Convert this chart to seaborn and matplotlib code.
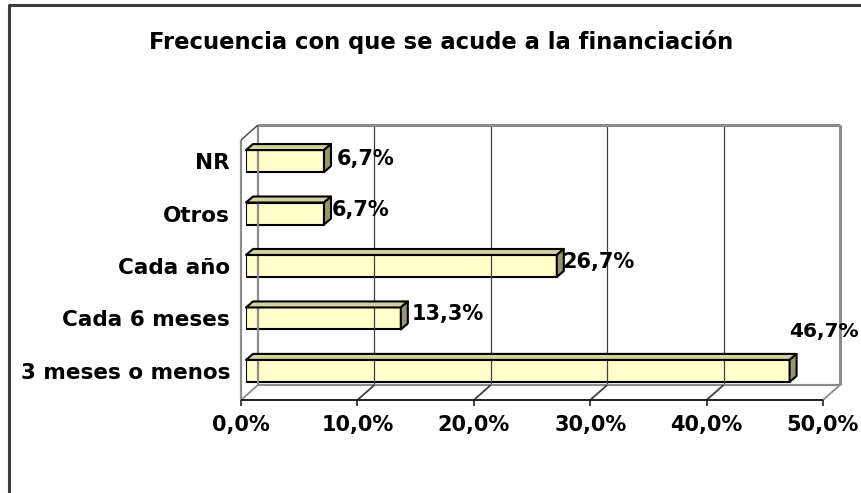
import matplotlib
matplotlib.use("Agg")
import matplotlib.pyplot as plt
import matplotlib.lines as mlines
import matplotlib.patches as mpatches
import matplotlib.transforms as mtransforms
import seaborn as sns
import pandas as pd

# ---- data ----
categories = ["NR", "Otros", "Cada año", "Cada 6 meses", "3 meses o menos"]
values = [0.067, 0.067, 0.267, 0.133, 0.467]
value_labels = ["6,7%", "6,7%", "26,7%", "13,3%", "46,7%"]
x_ticks = [0.0, 0.1, 0.2, 0.3, 0.4, 0.5]
x_tick_labels = ["0,0%", "10,0%", "20,0%", "30,0%", "40,0%", "50,0%"]
title = "Frecuencia con que se acude a la financiación"

# ---- style ----
sns.set_theme(style="white")
plt.rcParams["font.family"] = ["DejaVu Sans"]
FS = 15
W, H = 862, 493
FRONT = "#FFFFCC"
TOP = "#D2D2A0"
SIDE = "#96966C"
GRAY = "#8C8C8C"
D_BAR = (7, 6)      # bar depth (display px)
D_BACK = (12, 11)   # back wall offset from bar plane
D_FRONT = (-5, -4)  # front plane offset from bar plane

fig = plt.figure(figsize=(W / 100, H / 100), dpi=100)
ax = fig.add_axes([246 / W, (H - 396) / H, 582 / W, 260 / H])

df = pd.DataFrame({"cat": categories, "val": values})
sns.barplot(data=df, x="val", y="cat", order=categories, orient="h",
            color=FRONT, saturation=1, edgecolor="black", linewidth=1.5,
            width=0.42, ax=ax, zorder=5)
ax.set_xlim(0, 0.5)
ax.set_ylim(4.478, -0.478)
for s in ax.spines.values():
    s.set_visible(False)
ax.set_xticks([])
ax.set_xlabel("")
ax.set_ylabel("")
ax.tick_params(axis="y", length=0, pad=11.5)
for t in ax.get_yticklabels():
    t.set_fontsize(FS + 0.5)
    t.set_fontweight("bold")
    t.set_color("black")
ax.patch.set_alpha(0)

fig.canvas.draw()
ident = mtransforms.IdentityTransform()
ybot, ytop = ax.get_ylim()


def disp(x, y, d=(0, 0)):
    px, py = ax.transData.transform((x, y))
    return (px + d[0], py + d[1])


def line(p, q, color, lw, z=1):
    fig.add_artist(mlines.Line2D([p[0], q[0]], [p[1], q[1]], transform=ident,
                                 color=color, lw=lw, zorder=z,
                                 solid_capstyle="butt"))


# back wall gridlines
for t in x_ticks[1:-1]:
    line(disp(t, ybot, D_BACK), disp(t, ytop, D_BACK), "#404040", 0.9)
# back wall outer edges
line(disp(0, ybot, D_BACK), disp(0, ytop, D_BACK), GRAY, 1.6)
line(disp(0, ytop, D_BACK), disp(0.5, ytop, D_BACK), GRAY, 2.2)
line(disp(0.5, ytop, D_BACK), disp(0.5, ybot, D_BACK), GRAY, 2.2)
# floor
line(disp(0, ybot, D_BACK), disp(0.5, ybot, D_BACK), GRAY, 1.6)
for t in x_ticks:
    line(disp(t, ybot, D_FRONT), disp(t, ybot, D_BACK),
         GRAY if t in (0, 0.5) else "#404040", 1.3)
# left wall
line(disp(0, ybot, D_FRONT), disp(0, ytop, D_FRONT), GRAY, 1.6)
line(disp(0, ytop, D_FRONT), disp(0, ytop, D_BACK), "#404040", 1.0)
# front axis with ticks
line(disp(0, ybot, D_FRONT), disp(0.5, ybot, D_FRONT), "#202020", 1.4, 3)
for t, lab in zip(x_ticks, x_tick_labels):
    p = disp(t, ybot, D_FRONT)
    line(p, (p[0], p[1] - 6), "#202020", 1.2, 3)
    fig.text(p[0] / W, (p[1] - 25) / H, lab, ha="center", va="center",
             fontsize=FS, fontweight="bold", color="black")

# 3D bar faces
for patch in ax.patches:
    x0, y0 = patch.get_x(), patch.get_y()
    w, h = patch.get_width(), patch.get_height()
    (ax0, ay0) = disp(x0, y0)
    (ax1, ay1) = disp(x0 + w, y0 + h)
    left, right = min(ax0, ax1), max(ax0, ax1)
    top, bottom = max(ay0, ay1), min(ay0, ay1)
    dx, dy = D_BAR
    top_face = [(left, top), (right, top), (right + dx, top + dy), (left + dx, top + dy)]
    side_face = [(right, top), (right, bottom), (right + dx, bottom + dy), (right + dx, top + dy)]
    for poly, col in ((top_face, TOP), (side_face, SIDE)):
        fig.add_artist(mpatches.Polygon(poly, closed=True, transform=ident,
                                        facecolor=col, edgecolor="black",
                                        lw=1.5, zorder=6, joinstyle="round"))

# value labels (last one sits above its bar, flush with the right edge)
label_dx = [13, 8, 6, 11]
label_dy = [2, 4, 4, 4, 39]
for i, (v, lab) in enumerate(zip(values, value_labels)):
    p = disp(v, i)
    if i < len(label_dx):
        fig.text((p[0] + label_dx[i]) / W, (p[1] + label_dy[i]) / H, lab,
                 ha="left", va="center", fontsize=FS, fontweight="bold",
                 color="black", zorder=8)
    else:
        fig.text((W - 3) / W, (p[1] + label_dy[i]) / H, lab,
                 ha="right", va="center", fontsize=FS - 0.5, fontweight="bold",
                 color="black", zorder=8)

# title
fig.text(441 / W, (H - 42) / H, title, ha="center", va="center",
         fontsize=16.3, fontweight="bold", color="black")

# chart frame (left and top edges visible)
fig.add_artist(mlines.Line2D([9, 9, W + 5], [-5, H - 5, H - 5], transform=ident,
                             color="#3C3C3C", lw=2.2))

fig.savefig("out.png", dpi=100)
